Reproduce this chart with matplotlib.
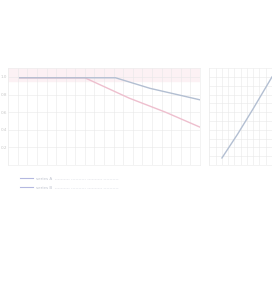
import numpy as np
import matplotlib.pyplot as plt

# left panel: two decaying curves
x_pink = [6, 40, 48, 63, 82, 100]
y_pink = [0.99, 0.99, 0.91, 0.76, 0.60, 0.43]
x_blue = [6, 56, 74, 100]
y_blue = [0.99, 0.99, 0.87, 0.74]

# right panel: rising curve
x_rise = [0.2, 0.45, 0.7, 1.0]
y_rise = [0.08, 0.35, 0.64, 1.0]

y_ticks = [0.2, 0.4, 0.6, 0.8, 1.0]
y_ticklabels = ["0.2", "0.4", "0.6", "0.8", "1.0"]

legend_labels = ["series A  ---------- ---------- ---------- ----------",
                 "series B  ---------- ---------- ---------- ----------"]

fig = plt.figure(figsize=(2.72, 2.91), dpi=100)
ax1 = fig.add_axes([0.03, 0.433, 0.705, 0.333])
ax2 = fig.add_axes([0.77, 0.433, 0.23, 0.333])

grid_c = "#e8e8e8"
for ax in (ax1, ax2):
    ax.set_facecolor("white")
    for s in ax.spines.values():
        s.set_color("#eeeeee")
        s.set_linewidth(0.5)
    ax.tick_params(length=0, labelsize=3, colors="#c8c8c8", pad=1)
    ax.grid(True, color=grid_c, linewidth=0.4)

ax1.plot(x_pink, y_pink, color="#eebfce", lw=1.0)
ax1.plot(x_blue, y_blue, color="#b3bfd2", lw=1.0)
ax1.set_xlim(0, 100)
ax1.set_ylim(0, 1.1)
ax1.set_xticks(np.arange(0, 101, 5))
ax1.set_xticklabels([])
ax1.set_yticks(y_ticks)
ax1.set_yticklabels(y_ticklabels)
ax1.axhspan(0.95, 1.1, color="#fcf1f4", zorder=0)

ax2.plot(x_rise, y_rise, color="#b3bfd2", lw=1.0)
ax2.set_xlim(0, 1)
ax2.set_ylim(0, 1.1)
ax2.set_xticks(np.arange(0, 1.01, 0.1))
ax2.set_xticklabels([])
ax2.set_yticks(np.arange(0, 1.1, 0.1))
ax2.set_yticklabels([])

handles = [plt.Line2D([], [], color="#b4b8e0", lw=0.8),
           plt.Line2D([], [], color="#b4b8e0", lw=0.8)]
fig.legend(handles, legend_labels, loc="upper left",
           bbox_to_anchor=(0.06, 0.405), frameon=False, fontsize=3,
           labelcolor="#c0c4d0", handlelength=3, labelspacing=1.2)

fig.savefig("out.png", dpi=100, facecolor="white")
